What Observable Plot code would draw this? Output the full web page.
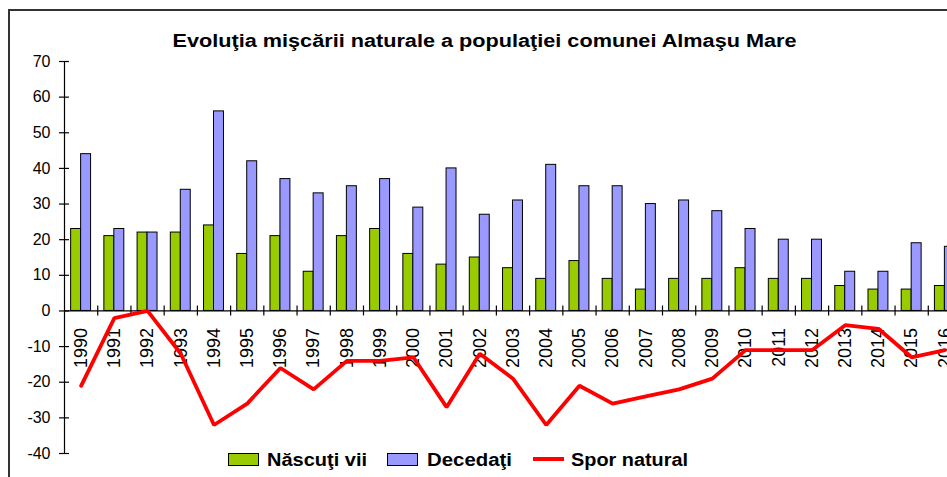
<!DOCTYPE html>
<html>
<head>
<meta charset="utf-8">
<script src="https://cdn.jsdelivr.net/npm/d3@7"></script>
<script src="https://cdn.jsdelivr.net/npm/@observablehq/plot@0.6"></script>
<style>
html, body { margin: 0; padding: 0; background: #fff; overflow: hidden; }
#chart { position: relative; width: 947px; height: 477px; overflow: hidden; }
#border { position: absolute; left: 8px; top: 9px; width: 1200px; height: 1200px; border: 2px solid #333; box-sizing: border-box; pointer-events: none; }
</style>
</head>
<body>
<div id="chart"><div id="border"></div></div>
<script>
const years = ["1990","1991","1992","1993","1994","1995","1996","1997","1998","1999","2000","2001","2002","2003","2004","2005","2006","2007","2008","2009","2010","2011","2012","2013","2014","2015","2016"];
const nascuti = [23,21,22,22,24,16,21,11,21,23,16,13,15,12,9,14,9,6,9,9,12,9,9,7,6,6,7];
const decedati = [44,23,22,34,56,42,37,33,35,37,29,40,27,31,41,35,35,30,31,28,23,20,20,11,11,19,18];
const spor = [-21,-2,0,-12,-32,-26,-16,-22,-14,-14,-13,-27,-12,-19,-32,-21,-26,-24,-22,-19,-11,-11,-11,-4,-5,-13,-11];
const yTicks = [-40,-30,-20,-10,0,10,20,30,40,50,60,70];
const titleText = "Evoluţia mişcării naturale a populaţiei comunei Almaşu Mare";
const seriesNames = ["Născuţi vii", "Decedaţi", "Spor natural"];
const colors = ["#99cc00", "#9999ff", "#ff0000"];

const data = years.map((y, i) => ({year: +y, label: y, n: nascuti[i], d: decedati[i], s: spor[i]}));
const boundaries = years.map(y => +y + 0.5);
const first = +years[0] - 0.5, last = +years[years.length - 1] + 0.5;

const font = "'Liberation Sans', Arial, Helvetica, sans-serif";

const plot = Plot.plot({
  width: 947,
  height: 477,
  marginLeft: 64,
  marginRight: -14,
  marginTop: 61,
  marginBottom: 24,
  x: {domain: [first, last], range: [64, 961], axis: null},
  y: {domain: [-40, 70], range: [453, 61]},
  style: {fontFamily: font, background: "#fff", overflow: "hidden", color: "#000"},
  marks: [
    Plot.rect(data, {x1: d => d.year - 0.3, x2: d => d.year, y1: 0, y2: "n", fill: colors[0], stroke: "#000", strokeWidth: 1}),
    Plot.rect(data, {x1: d => d.year, x2: d => d.year + 0.3, y1: 0, y2: "d", fill: colors[1], stroke: "#000", strokeWidth: 1}),
    Plot.ruleX([first], {y1: -40, y2: 70, stroke: "#000", strokeWidth: 1.2}),
    Plot.ruleY(yTicks, {y: d => d, x1: first, x2: first, insetLeft: -5, insetRight: -5, stroke: "#000", strokeWidth: 1.2}),
    Plot.axisY({ticks: yTicks, tickSize: 0, tickPadding: 14, fontSize: 16, anchor: "left", tickFormat: d => String(d)}),
    Plot.ruleY([0], {x1: first, x2: last, stroke: "#000", strokeWidth: 1.2}),
    Plot.ruleX(boundaries, {x: d => d, y1: 0, y2: 0, insetTop: -5, insetBottom: -5, stroke: "#000", strokeWidth: 1.2}),
    Plot.text(data, {x: "year", y: 0, text: "label", rotate: -90, textAnchor: "end", dy: 17, fontSize: 18, fill: "#000"}),
    Plot.line(data, {x: "year", y: "s", stroke: colors[2], strokeWidth: 3.8, strokeLinejoin: "miter"})
  ]
});

const svg = d3.select(plot);

// title
svg.append("text")
  .attr("x", 172.5).attr("y", 46.7)
  .attr("text-anchor", "start")
  .attr("font-family", font).attr("font-size", 18).attr("font-weight", "bold")
  .attr("fill", "#000")
  .attr("textLength", 624).attr("lengthAdjust", "spacingAndGlyphs")
  .text(titleText);

// legend
const lg = svg.append("g").attr("font-family", font).attr("font-size", 18).attr("font-weight", "bold")
  .attr("fill", "#000").attr("text-anchor", "start");
lg.append("rect").attr("x", 228.5).attr("y", 453.5).attr("width", 30).attr("height", 12)
  .attr("fill", colors[0]).attr("stroke", "#000");
lg.append("text").attr("x", 267).attr("y", 466).attr("textLength", 100).attr("lengthAdjust", "spacingAndGlyphs").text(seriesNames[0]);
lg.append("rect").attr("x", 387.5).attr("y", 453.5).attr("width", 30).attr("height", 12)
  .attr("fill", colors[1]).attr("stroke", "#000");
lg.append("text").attr("x", 427).attr("y", 466).attr("textLength", 85).attr("lengthAdjust", "spacingAndGlyphs").text(seriesNames[1]);
lg.append("line").attr("x1", 533).attr("x2", 564).attr("y1", 459).attr("y2", 459)
  .attr("stroke", colors[2]).attr("stroke-width", 4);
lg.append("text").attr("x", 571).attr("y", 466).attr("textLength", 117).attr("lengthAdjust", "spacingAndGlyphs").text(seriesNames[2]);

const chart = document.getElementById("chart");
chart.insertBefore(plot, chart.firstChild);
</script>
</body>
</html>
